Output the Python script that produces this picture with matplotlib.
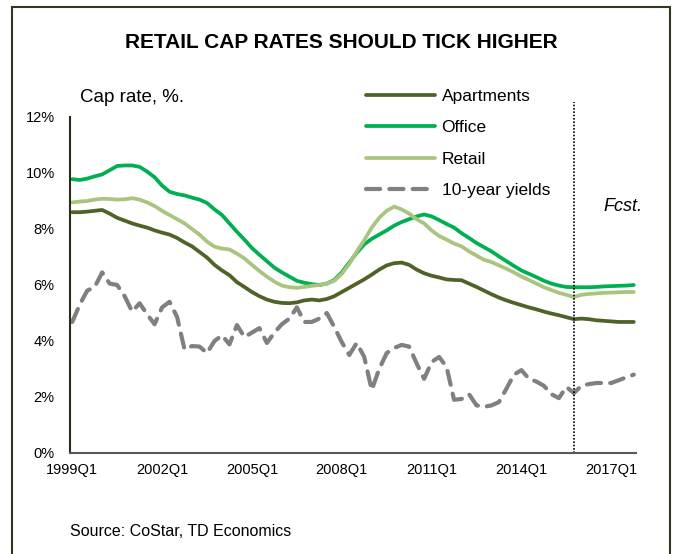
import matplotlib.pyplot as plt
from matplotlib.patches import Rectangle
from matplotlib.ticker import FuncFormatter

plt.rcParams['font.family'] = ['Liberation Sans', 'DejaVu Sans']

# quarterly, 1999Q1 .. 2017Q4
quarters = [f"{1999 + k // 4}Q{k % 4 + 1}" for k in range(76)]

apartments = [8.6, 8.6, 8.62, 8.65, 8.68, 8.55, 8.4, 8.3, 8.2, 8.12,
              8.05, 7.95, 7.87, 7.8, 7.68, 7.52, 7.38, 7.18, 6.98, 6.72,
              6.52, 6.35, 6.1, 5.93, 5.75, 5.6, 5.48, 5.4, 5.36, 5.35,
              5.38, 5.45, 5.48, 5.45, 5.5, 5.6, 5.75, 5.9, 6.05, 6.2,
              6.37, 6.55, 6.7, 6.78, 6.8, 6.72, 6.55, 6.42, 6.33, 6.27,
              6.2, 6.18, 6.17, 6.05, 5.93, 5.8, 5.67, 5.55, 5.45, 5.36,
              5.28, 5.2, 5.13, 5.05, 4.98, 4.92, 4.85, 4.78, 4.8, 4.78,
              4.74, 4.72, 4.7, 4.68, 4.68, 4.68]

office = [9.78, 9.75, 9.8, 9.88, 9.95, 10.1, 10.25, 10.27, 10.27, 10.22,
          10.05, 9.85, 9.55, 9.33, 9.25, 9.2, 9.12, 9.05, 8.93, 8.7,
          8.5, 8.2, 7.9, 7.62, 7.32, 7.08, 6.85, 6.62, 6.45, 6.3,
          6.15, 6.08, 6.03, 6.0, 6.05, 6.18, 6.45, 6.8, 7.15, 7.45,
          7.65, 7.8, 7.95, 8.12, 8.25, 8.35, 8.45, 8.52, 8.45, 8.32,
          8.18, 8.05, 7.85, 7.68, 7.5, 7.35, 7.2, 7.02, 6.85, 6.68,
          6.52, 6.4, 6.28, 6.15, 6.05, 5.98, 5.93, 5.92, 5.92, 5.92,
          5.93, 5.95, 5.96, 5.97, 5.98, 6.0]

retail = [8.95, 8.98, 9.0, 9.05, 9.08, 9.07, 9.05, 9.06, 9.1, 9.05,
          8.95, 8.82, 8.65, 8.5, 8.35, 8.2, 8.0, 7.8, 7.55, 7.37,
          7.3, 7.27, 7.12, 6.95, 6.72, 6.5, 6.3, 6.12, 5.98, 5.92,
          5.9, 5.93, 5.97, 6.0, 6.05, 6.15, 6.4, 6.75, 7.2, 7.6,
          8.05, 8.4, 8.65, 8.8, 8.7, 8.55, 8.35, 8.2, 7.95, 7.75,
          7.62, 7.48, 7.38, 7.2, 7.05, 6.9, 6.82, 6.7, 6.58, 6.45,
          6.3, 6.18, 6.05, 5.92, 5.82, 5.72, 5.65, 5.57, 5.65, 5.68,
          5.7, 5.72, 5.73, 5.74, 5.75, 5.75]

yields = [4.68, 5.3, 5.8, 5.93, 6.45, 6.05, 6.0, 5.6, 5.05, 5.35,
          4.95, 4.6, 5.2, 5.4, 4.86, 3.7, 3.82, 3.8, 3.57, 4.0,
          4.2, 3.88, 4.57, 4.14, 4.3, 4.46, 3.93, 4.3, 4.6, 4.8,
          5.2, 4.68, 4.68, 4.8, 5.0, 4.5, 3.96, 3.5, 3.93, 3.43,
          2.25, 3.0, 3.57, 3.75, 3.86, 3.8, 3.2, 2.65, 3.25, 3.43,
          3.07, 1.9, 1.93, 2.1, 1.7, 1.65, 1.7, 1.82, 2.3, 2.8,
          2.96, 2.65, 2.55, 2.4, 2.1, 1.96, 2.36, 2.14, 2.4, 2.46,
          2.5, 2.5, 2.5, 2.6, 2.7, 2.8]

forecast_start = "2015Q4"
tick_labels = ["1999Q1", "2002Q1", "2005Q1", "2008Q1", "2011Q1", "2014Q1", "2017Q1"]

W, H = 681, 554
fig = plt.figure(figsize=(W / 100, H / 100), dpi=100)
fig.patches.append(Rectangle((12 / W, -0.05), 658 / W, 1.05 - 7 / H, transform=fig.transFigure,
                             fill=False, edgecolor="#2e3a1c", linewidth=1.5))

ax = fig.add_axes([70 / W, 1 - 453 / H, 566 / W, 336 / H])
x = list(range(len(quarters)))

ax.plot(x, apartments, color="#4f6228", lw=2.7, label="Apartments", solid_capstyle="round")
ax.plot(x, office, color="#00b050", lw=2.7, label="Office", solid_capstyle="round")
ax.plot(x, retail, color="#a9c47f", lw=2.7, label="Retail", solid_capstyle="round")
ax.plot(x, yields, color="#808080", lw=3, dashes=(3.4, 2.2), label="10-year yields",
        dash_capstyle="round")

fx = quarters.index(forecast_start)
ax.plot([fx, fx], [0, 12.55], color="black", lw=1.2, ls=(0, (1, 1)), clip_on=False)
ax.text(fx + 6.5, 8.8, "Fcst.", style="italic", fontsize=13, ha="center", va="center")

ax.set_xlim(-0.3, 75.3)
ax.set_ylim(0, 12)
ax.set_yticks(range(0, 13, 2))
ax.yaxis.set_major_formatter(FuncFormatter(lambda v, p: f"{v:.0f}%"))
ax.set_xticks([quarters.index(t) for t in tick_labels])
ax.set_xticklabels(tick_labels)
ax.tick_params(axis="both", length=0, labelsize=10.5)
ax.tick_params(axis="y", pad=11)
ax.tick_params(axis="x", pad=7)
for s in ["top", "right"]:
    ax.spines[s].set_visible(False)
ax.spines["left"].set_color("#2b2b1a")
ax.spines["left"].set_linewidth(1.5)
ax.spines["bottom"].set_color("#595959")
ax.spines["bottom"].set_linewidth(1.5)

ax.legend(loc="upper left", bbox_to_anchor=(366 / W, 1 - 89 / H), bbox_transform=fig.transFigure,
          frameon=False, fontsize=12.5, handlelength=4.0, handletextpad=0.35, labelspacing=0.93,
          borderpad=0, borderaxespad=0)

fig.text(341 / W, 1 - 42 / H, "RETAIL CAP RATES SHOULD TICK HIGHER", ha="center", va="center",
         fontsize=15, fontweight="bold")
fig.text(80 / W, 1 - 97 / H, "Cap rate, %.", ha="left", va="center", fontsize=13.5)
fig.text(70 / W, 1 - 531 / H, "Source: CoStar, TD Economics", ha="left", va="center", fontsize=11.5)

fig.savefig("out.png", dpi=100)
